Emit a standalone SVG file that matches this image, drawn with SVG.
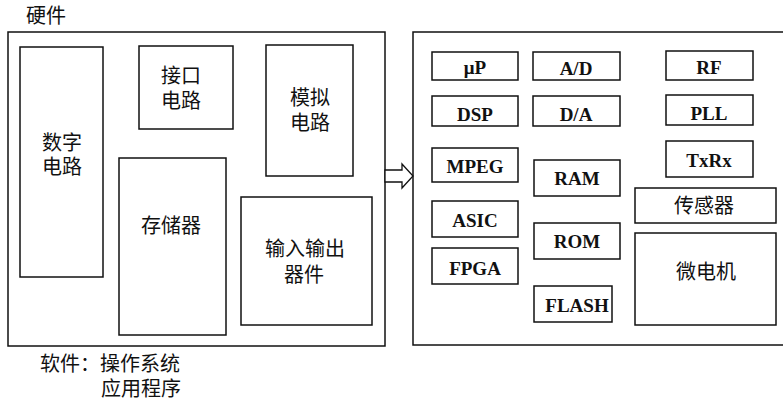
<svg xmlns="http://www.w3.org/2000/svg" width="783" height="402" viewBox="0 0 783 402">
<style>
.b{fill:none;stroke:#111;stroke-width:1.5}
.c{font-family:"Liberation Serif","Noto Sans CJK SC",serif;font-size:20px;fill:#111;text-anchor:middle}
.l{font-family:"Liberation Serif","Noto Sans CJK SC",serif;font-size:19px;font-weight:bold;fill:#111;text-anchor:middle}
.t{font-family:"Liberation Serif","Noto Sans CJK SC",serif;font-size:20px;fill:#111}
</style>
<rect width="783" height="402" fill="#fff"/>
<text class="t" x="26" y="23">硬件</text>
<g id="hardware"><rect class="b" x="8" y="32" width="377" height="314"/></g>
<g id="digital"><rect class="b" x="20" y="47" width="83" height="230"/><text class="c" x="62" y="150">数字</text><text class="c" x="62" y="174">电路</text></g>
<g id="interface"><rect class="b" x="139" y="46" width="94" height="83"/><text class="c" x="181" y="83">接口</text><text class="c" x="181" y="108">电路</text></g>
<g id="analog"><rect class="b" x="266" y="45" width="87" height="131"/><text class="c" x="310" y="105">模拟</text><text class="c" x="310" y="130">电路</text></g>
<g id="memory"><rect class="b" x="119" y="158" width="107" height="177"/><text class="c" x="171" y="233">存储器</text></g>
<g id="io"><rect class="b" x="241" y="197" width="131" height="128"/><text class="c" x="305" y="256">输入输出</text><text class="c" x="304" y="282">器件</text></g>
<text class="t" x="40" y="371">软件：操作系统</text>
<text class="t" x="101" y="396">应用程序</text>
<g id="connectors"><polygon points="385,170 402,170 402,164 413,176 402,188 402,182 385,182" fill="#fff" stroke="#111" stroke-width="1.3"/></g>
<g id="system"><rect class="b" x="413" y="32" width="380" height="313"/></g>
<g id="up"><rect class="b" x="432" y="52" width="86" height="28"/><text class="l" x="475" y="74">μP</text></g>
<g id="ad"><rect class="b" x="533" y="52" width="87" height="28"/><text class="l" x="576" y="75">A/D</text></g>
<g id="rf"><rect class="b" x="666" y="51" width="87" height="29"/><text class="l" x="709" y="74">RF</text></g>
<g id="dsp"><rect class="b" x="432" y="96" width="86" height="30"/><text class="l" x="475" y="121">DSP</text></g>
<g id="da"><rect class="b" x="533" y="96" width="87" height="30"/><text class="l" x="576" y="121">D/A</text></g>
<g id="pll"><rect class="b" x="666" y="95" width="87" height="30"/><text class="l" x="709" y="120">PLL</text></g>
<g id="mpeg"><rect class="b" x="432" y="148" width="86" height="34"/><text class="l" x="475" y="173">MPEG</text></g>
<g id="ram"><rect class="b" x="534" y="160" width="86" height="36"/><text class="l" x="577" y="185">RAM</text></g>
<g id="txrx"><rect class="b" x="666" y="141" width="87" height="36"/><text class="l" x="709" y="167">TxRx</text></g>
<g id="sensor"><rect class="b" x="635" y="188" width="141" height="35"/><text class="c" x="704" y="213">传感器</text></g>
<g id="asic"><rect class="b" x="432" y="201" width="86" height="36"/><text class="l" x="475" y="227">ASIC</text></g>
<g id="rom"><rect class="b" x="534" y="223" width="86" height="36"/><text class="l" x="577" y="248">ROM</text></g>
<g id="fpga"><rect class="b" x="432" y="248" width="86" height="36"/><text class="l" x="475" y="275">FPGA</text></g>
<g id="motor"><rect class="b" x="635" y="233" width="141" height="92"/><text class="c" x="706" y="279">微电机</text></g>
<g id="flash"><rect class="b" x="534" y="286" width="78" height="36"/><text class="l" x="577" y="312">FLASH</text></g>
</svg>
